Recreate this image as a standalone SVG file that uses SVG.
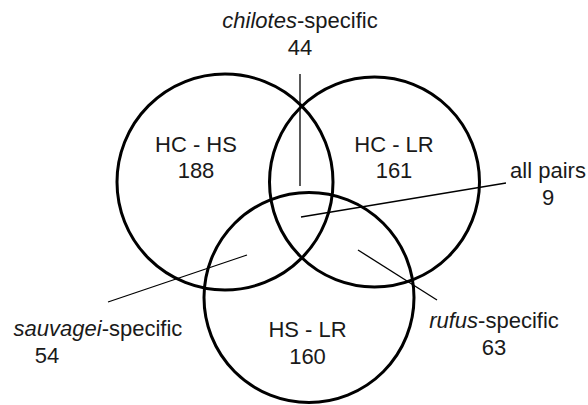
<svg xmlns="http://www.w3.org/2000/svg" width="588" height="405" viewBox="0 0 588 405">
<style>
.c{fill:none;stroke:#000;stroke-width:3}
.l{stroke:#000;stroke-width:1.3;fill:none}
text{font-family:"Liberation Sans",Arial,sans-serif;font-size:22px;fill:#1a1a1a;text-anchor:middle}
.i{font-style:italic}
</style>
<rect width="588" height="405" fill="#fff"/>
<g id="connectors">
<line class="l" x1="300" y1="74" x2="300" y2="186"/>
<line class="l" x1="301" y1="217" x2="506" y2="183"/>
<line class="l" x1="247" y1="255" x2="108" y2="302"/>
<line class="l" x1="358" y1="250" x2="437" y2="300"/>
</g>
<g id="circle-HC-HS"><circle class="c" cx="225" cy="182" r="108"/><text x="196" y="152">HC - HS</text><text x="196" y="178">188</text></g>
<g id="circle-HC-LR"><circle class="c" cx="374.5" cy="182" r="105"/><text x="394" y="152">HC - LR</text><text x="394" y="178">161</text></g>
<g id="circle-HS-LR"><circle class="c" cx="309" cy="297.5" r="105"/><text x="307.5" y="337">HS - LR</text><text x="307.5" y="364">160</text></g>
<g id="label-chilotes"><text x="300" y="28"><tspan class="i">chilotes</tspan>-specific</text><text x="300" y="55">44</text></g>
<g id="label-all"><text x="548" y="178">all pairs</text><text x="548" y="205">9</text></g>
<g id="label-sauvagei"><text x="98" y="336"><tspan class="i">sauvagei</tspan>-specific</text><text x="47" y="363">54</text></g>
<g id="label-rufus"><text x="494" y="328"><tspan class="i">rufus</tspan>-specific</text><text x="494" y="355">63</text></g>
</svg>
